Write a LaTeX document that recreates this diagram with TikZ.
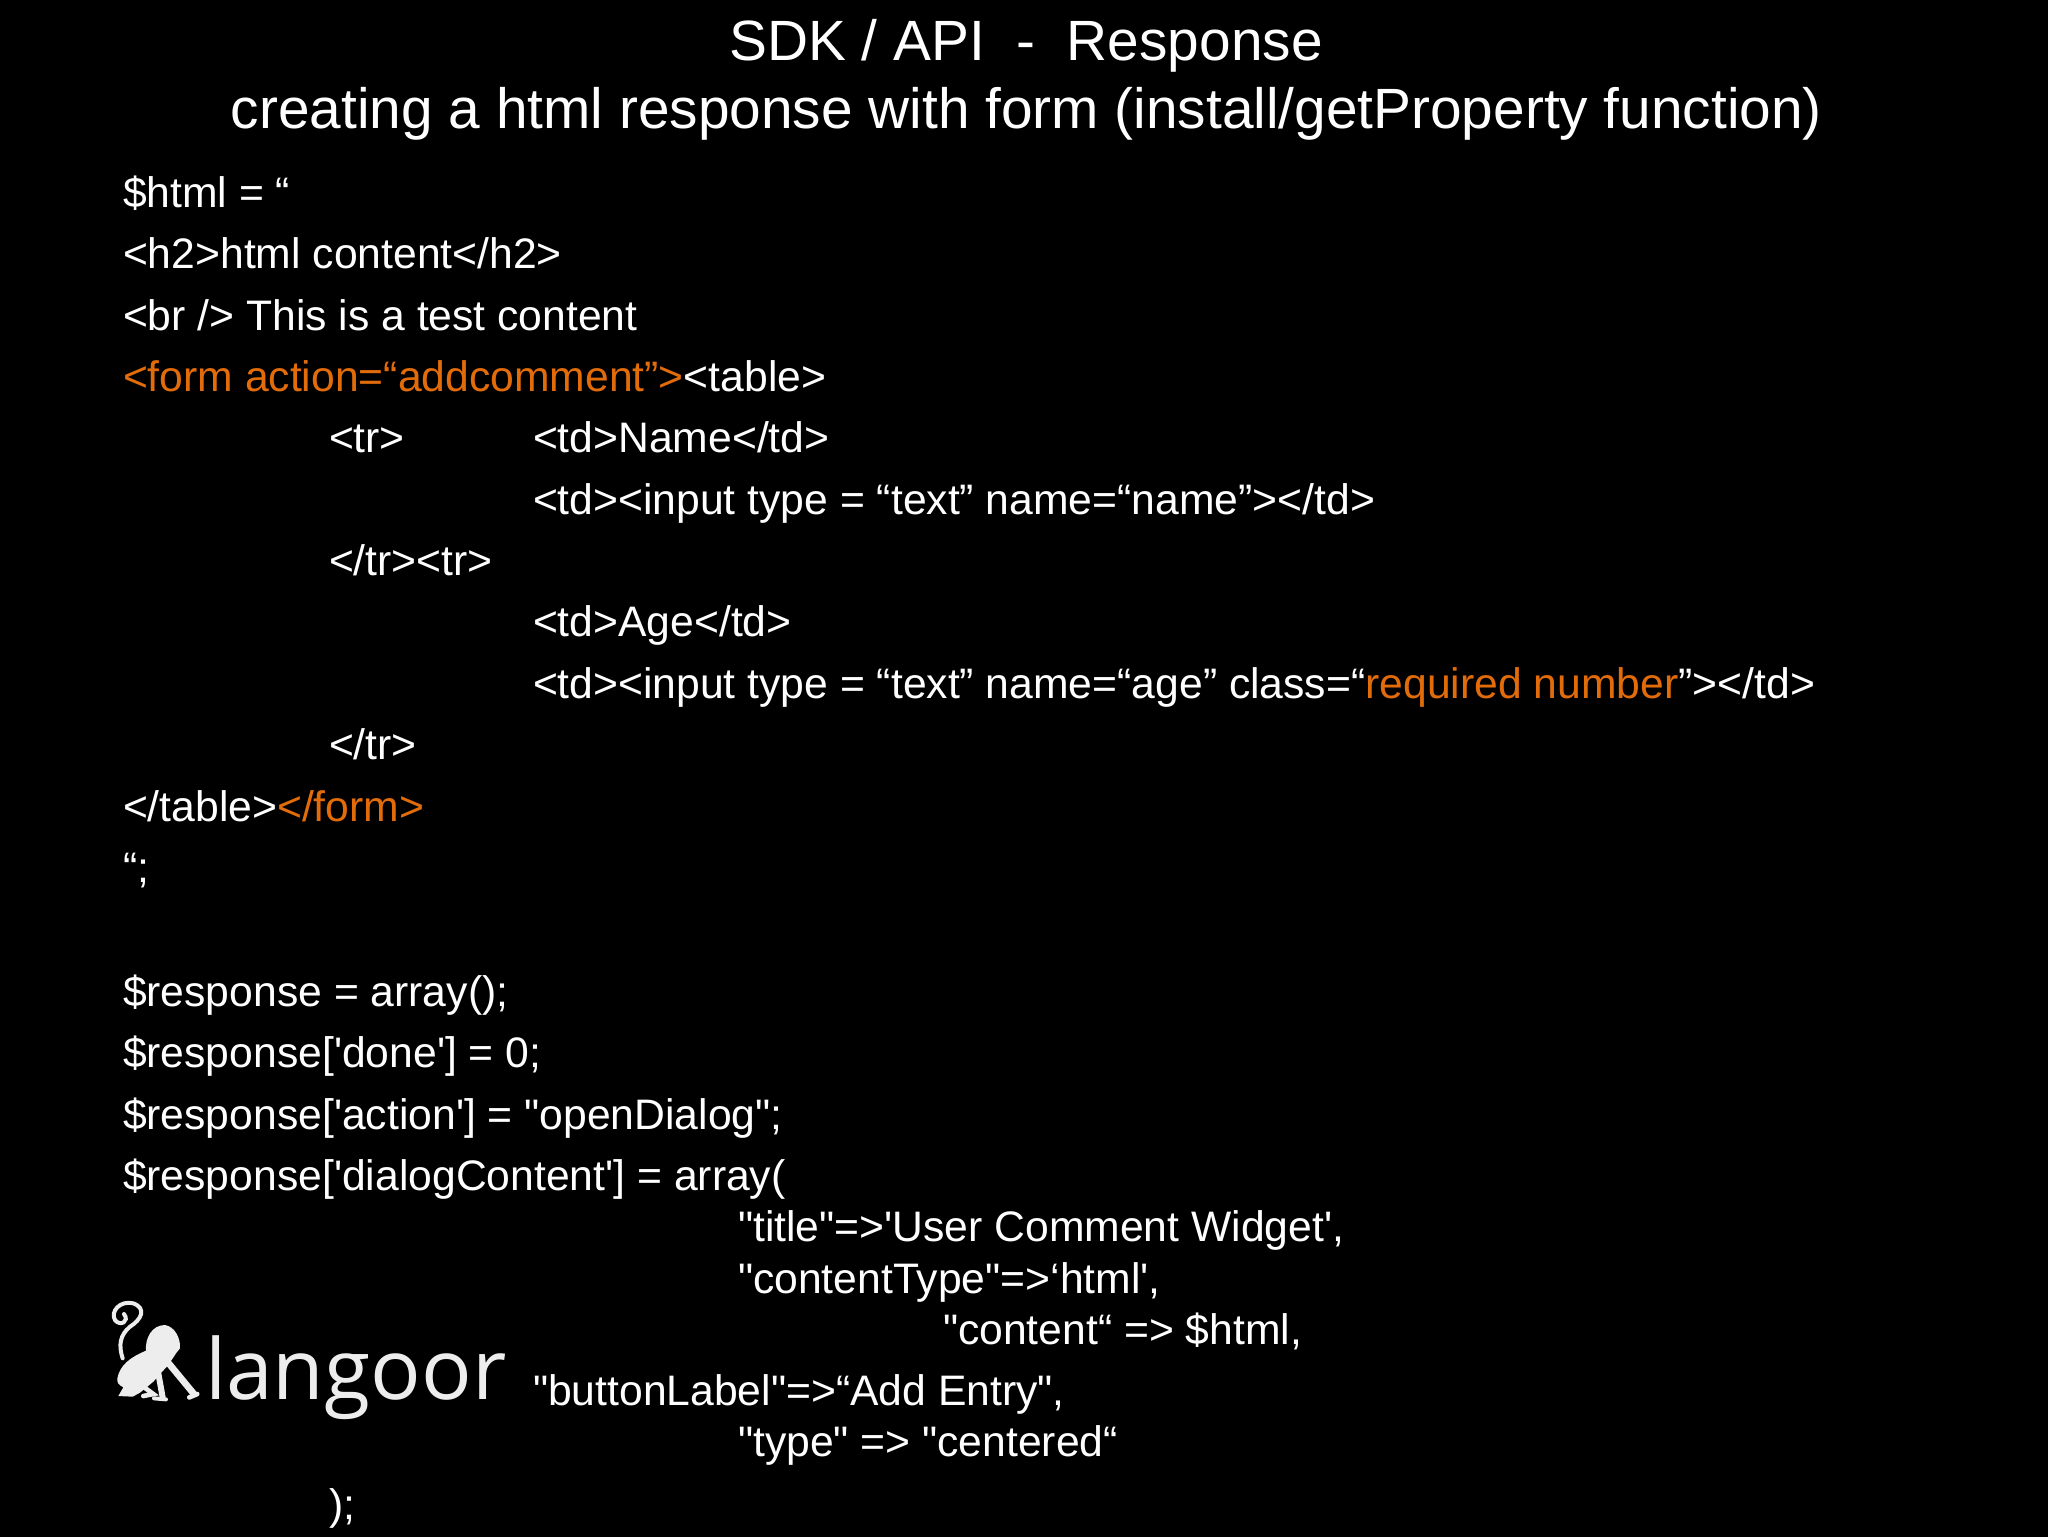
\documentclass[tikz,border=0pt]{standalone}
\usepackage{fontspec}
\newfontfamily\slidefont{Liberation Sans}
\newfontfamily\logofont{Open Sans}
\definecolor{hl}{HTML}{E36C0A}
\definecolor{logogray}{HTML}{EDEDED}
\tikzset{
  codeline/.style={anchor=base west,inner sep=0pt,outer sep=0pt,yshift=-0.6pt,text=white,font=\slidefont\fontsize{32}{36}\selectfont},
  titleline/.style={anchor=base,inner sep=0pt,outer sep=0pt,text=white,font=\slidefont\fontsize{42.6}{50}\selectfont},
  logotext/.style={anchor=base west,inner sep=0pt,outer sep=0pt,text=logogray,font=\logofont\fontsize{63}{70}\selectfont}
}
\begin{document}
\begin{tikzpicture}[x=0.75pt,y=-0.75pt]
\useasboundingbox (0,0) rectangle (2048,1536);
\fill[black] (-4,-4) rectangle (2052,1540);
\node[titleline] (t1) at (1026,60) {SDK / API\ \ -\ \ Response};
\node[titleline] (t2) at (1026.5,128.5) {creating a html response with form (install/getProperty function)};
\node[codeline] (c1) at (123,206.5) {\$html = “};
\node[codeline] (c2) at (123,268) {<h2>html content</h2>};
\node[codeline] (c3) at (123,329.5) {<br /> This is a test content};
\node[codeline] (c4) at (123,391) {{\color{hl}<form action=“addcomment”>}<table>};
\node[codeline] (c5) at (329,452) {<tr>};
\node[codeline] (c5b) at (533,452) {<td>Name</td>};
\node[codeline] (c6) at (533,513.5) {<td><input type = “text” name=“name”></td>};
\node[codeline] (c7) at (329,575) {</tr><tr>};
\node[codeline] (c8) at (533,636) {<td>Age</td>};
\node[codeline] (c9) at (533,698) {<td><input type = “text” name=“age” class=“{\color{hl}required number}”></td>};
\node[codeline] (c10) at (329,759) {</tr>};
\node[codeline] (c11) at (123,820.5) {</table>{\color{hl}</form>}};
\node[codeline] (c12) at (123,882) {“;};
\node[codeline] (c13) at (123,1006) {\$response = array();};
\node[codeline] (c14) at (123,1067) {\$response['done'] = 0;};
\node[codeline] (c15) at (123,1128.5) {\$response['action'] = "openDialog";};
\node[codeline] (c16) at (123,1190) {\$response['dialogContent'] = array(};
\node[codeline] (c17) at (738,1241) {"title"=>'User Comment Widget',};
\node[codeline] (c18) at (738,1292.5) {"contentType"=>‘html',};
\node[codeline] (c19) at (943,1343.5) {"content“ => \$html,};
\node[codeline] (c20) at (533,1404.5) {"buttonLabel"=>“Add Entry",};
\node[codeline] (c21) at (738,1455.5) {"type" => "centered“};
\node[codeline] (c22) at (329,1519) {);};
% logo
\node[logotext] (logo) at (205,1399) {langoor};
\begin{scope}[shift={(90,1270)},x=0.25pt,y=-0.25pt]
\draw[logogray,line width=3pt,line cap=round] (98,265) .. controls (85,225) and (90,195) .. (120,170) .. controls (155,148) and (170,115) .. (130,100) .. controls (90,90) and (60,125) .. (75,150) .. controls (90,170) and (120,155) .. (102,132);
% body and head
\fill[logogray] (82,325) .. controls (90,285) and (120,262) .. (168,242) .. controls (165,205) and (185,165) .. (225,165) .. controls (255,170) and (272,205) .. (270,235) -- (258,250) -- (235,285) -- (212,310) -- (190,335) -- (172,350) -- (150,368) -- (128,380) -- (85,378) -- (100,352) .. controls (85,345) and (80,335) .. (82,325) -- cycle;
% long arm with hand
\draw[logogray,line width=5pt,line cap=round] (232,275) -- (312,372);
\draw[logogray,line width=3.5pt,line cap=round] (298,382) -- (322,372);
% front leg
\draw[logogray,line width=4.5pt,line cap=round] (205,310) -- (218,382);
\draw[logogray,line width=3pt,line cap=round] (192,385) -- (228,388);
\draw[logogray,line width=3.5pt,line cap=round] (160,350) -- (190,372) -- (160,378);
\end{scope}
\end{tikzpicture}
\end{document}
